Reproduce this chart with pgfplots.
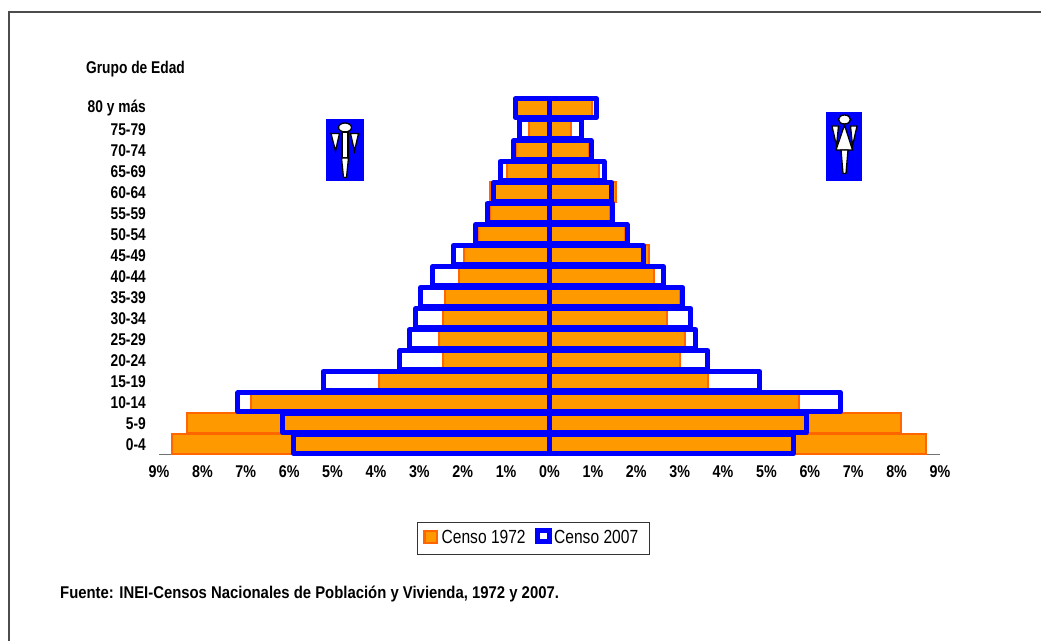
\documentclass[border=0pt]{standalone}
\usepackage{pgfplots}
\pgfplotsset{compat=1.18}
\usepackage{fontspec}
\setmainfont{Liberation Sans}
\definecolor{org}{HTML}{FF9900}
\definecolor{orgd}{HTML}{FF6600}
\definecolor{blu}{HTML}{0000FF}
\begin{document}
\begin{tikzpicture}[x=1pt,y=1pt]
\path[use as bounding box] (0,0) rectangle (1041,641);
\fill[white] (0,0) rectangle (1041,641);
\draw[line width=1.2pt,black!70] (9,0) -- (9,629) -- (1041,629);
\begin{axis}[
  at={(159pt,186.3pt)},anchor=south west,
  scale only axis,width=781pt,height=357pt,
  xmin=-9,xmax=9,ymin=-0.5,ymax=16.5,
  xbar,bar shift=0pt,bar width=20pt,
  axis y line=none,
  axis x line*=bottom,
  x axis line style={-,draw=black!55,line width=1.2pt},
  xtick={-9,-8,...,9},
  xticklabels={9\%,8\%,7\%,6\%,5\%,4\%,3\%,2\%,1\%,0\%,1\%,2\%,3\%,4\%,5\%,6\%,7\%,8\%,9\%},
  major tick length=0pt,
  xticklabel style={font=\fontsize{17}{19}\selectfont\bfseries,yshift=-7pt,xscale=0.84},
  clip=false,
]
\addplot[fill=org,draw=orgd,line width=2pt] coordinates {
(-8.69,0)(-8.35,1)(-6.87,2)(-3.93,3)(-2.46,4)(-2.54,5)(-2.46,6)(-2.41,7)(-2.08,8)(-1.98,9)(-1.65,10)(-1.36,11)(-1.36,12)(-0.99,13)(-0.78,14)(-0.48,15)(-0.75,16)};
\addplot[fill=org,draw=orgd,line width=2pt] coordinates {
(8.68,0)(8.11,1)(5.74,2)(3.66,3)(3.00,4)(3.12,5)(2.70,6)(3.00,7)(2.41,8)(2.30,9)(1.74,10)(1.40,11)(1.54,12)(1.14,13)(0.91,14)(0.49,15)(0.98,16)};
\addplot[fill=none,draw=blu,line width=5pt,line join=round,bar width=19pt] coordinates {
(-5.89,0)(-6.15,1)(-7.18,2)(-5.22,3)(-3.45,4)(-3.23,5)(-3.09,6)(-2.97,7)(-2.69,8)(-2.22,9)(-1.70,10)(-1.44,11)(-1.29,12)(-1.14,13)(-0.83,14)(-0.70,15)(-0.79,16)};
\addplot[fill=none,draw=blu,line width=5pt,line join=round,bar width=19pt] coordinates {
(5.62,0)(5.92,1)(6.71,2)(4.85,3)(3.65,4)(3.37,5)(3.26,6)(3.07,7)(2.63,8)(2.17,9)(1.79,10)(1.45,11)(1.44,12)(1.26,13)(0.96,14)(0.74,15)(1.08,16)};
\end{axis}
% age labels
\foreach \t [count=\i from 0] in {0-4,5-9,10-14,15-19,20-24,25-29,30-34,35-39,40-44,45-49,50-54,55-59,60-64,65-69,70-74,75-79,80 y más}
  \node[anchor=east,inner sep=0pt,font=\fontsize{17}{19}\selectfont\bfseries,xscale=0.81] at (146,{196.5+21*\i}) {\t};
\node[anchor=west,inner sep=0pt,font=\fontsize{17}{19}\selectfont\bfseries,xscale=0.81] at (86,571.5) {Grupo de Edad};
\node[anchor=west,inner sep=0pt,font=\fontsize{17}{19}\selectfont\bfseries,xscale=0.875] at (60,47) {Fuente: INEI-Censos Nacionales de Población y Vivienda, 1972 y 2007.};
% legend
\draw[line width=1pt,black!80,fill=white] (417,87) rectangle (649,119);
\draw[fill=org,draw=orgd,line width=2.4pt] (424.5,98) rectangle (437,110);
\node[anchor=west,inner sep=0pt,font=\fontsize{19}{21}\selectfont,xscale=0.82] at (441.5,104) {Censo 1972};
\draw[fill=white,draw=blu,line width=4.6pt] (537.5,99.5) rectangle (549.5,110.5);
\node[anchor=west,inner sep=0pt,font=\fontsize{19}{21}\selectfont,xscale=0.82] at (554,104) {Censo 2007};
% man icon
\fill[blu] (326,460) rectangle (364,522);
\begin{scope}[draw=black,fill=white,line width=1.3pt]
\filldraw (345,513.5) ellipse (6.5 and 4.5);
\filldraw (342,509) rectangle (348,483);
\filldraw (341.5,483) -- (348.5,483) -- (346.5,463.5) -- (343.5,463.5) -- cycle;
\filldraw (331,507.5) -- (339.5,507.5) -- (335.5,490) -- cycle;
\filldraw (350.5,507.5) -- (358.5,507.5) -- (354.5,490) -- cycle;
\end{scope}
% woman icon
\fill[blu] (826,460) rectangle (862,529);
\begin{scope}[draw=black,fill=white,line width=1.3pt]
\filldraw (844.5,521.5) ellipse (6 and 4.5);
\filldraw (832,515) -- (838.5,515) -- (836.5,495) -- cycle;
\filldraw (850.5,515) -- (857,515) -- (852.5,495) -- cycle;
\filldraw (844.5,516) -- (852.5,491) -- (836,491) -- cycle;
\filldraw (841,491) -- (848,491) -- (846,467.5) -- (843,467.5) -- cycle;
\end{scope}
\end{tikzpicture}
\end{document}
